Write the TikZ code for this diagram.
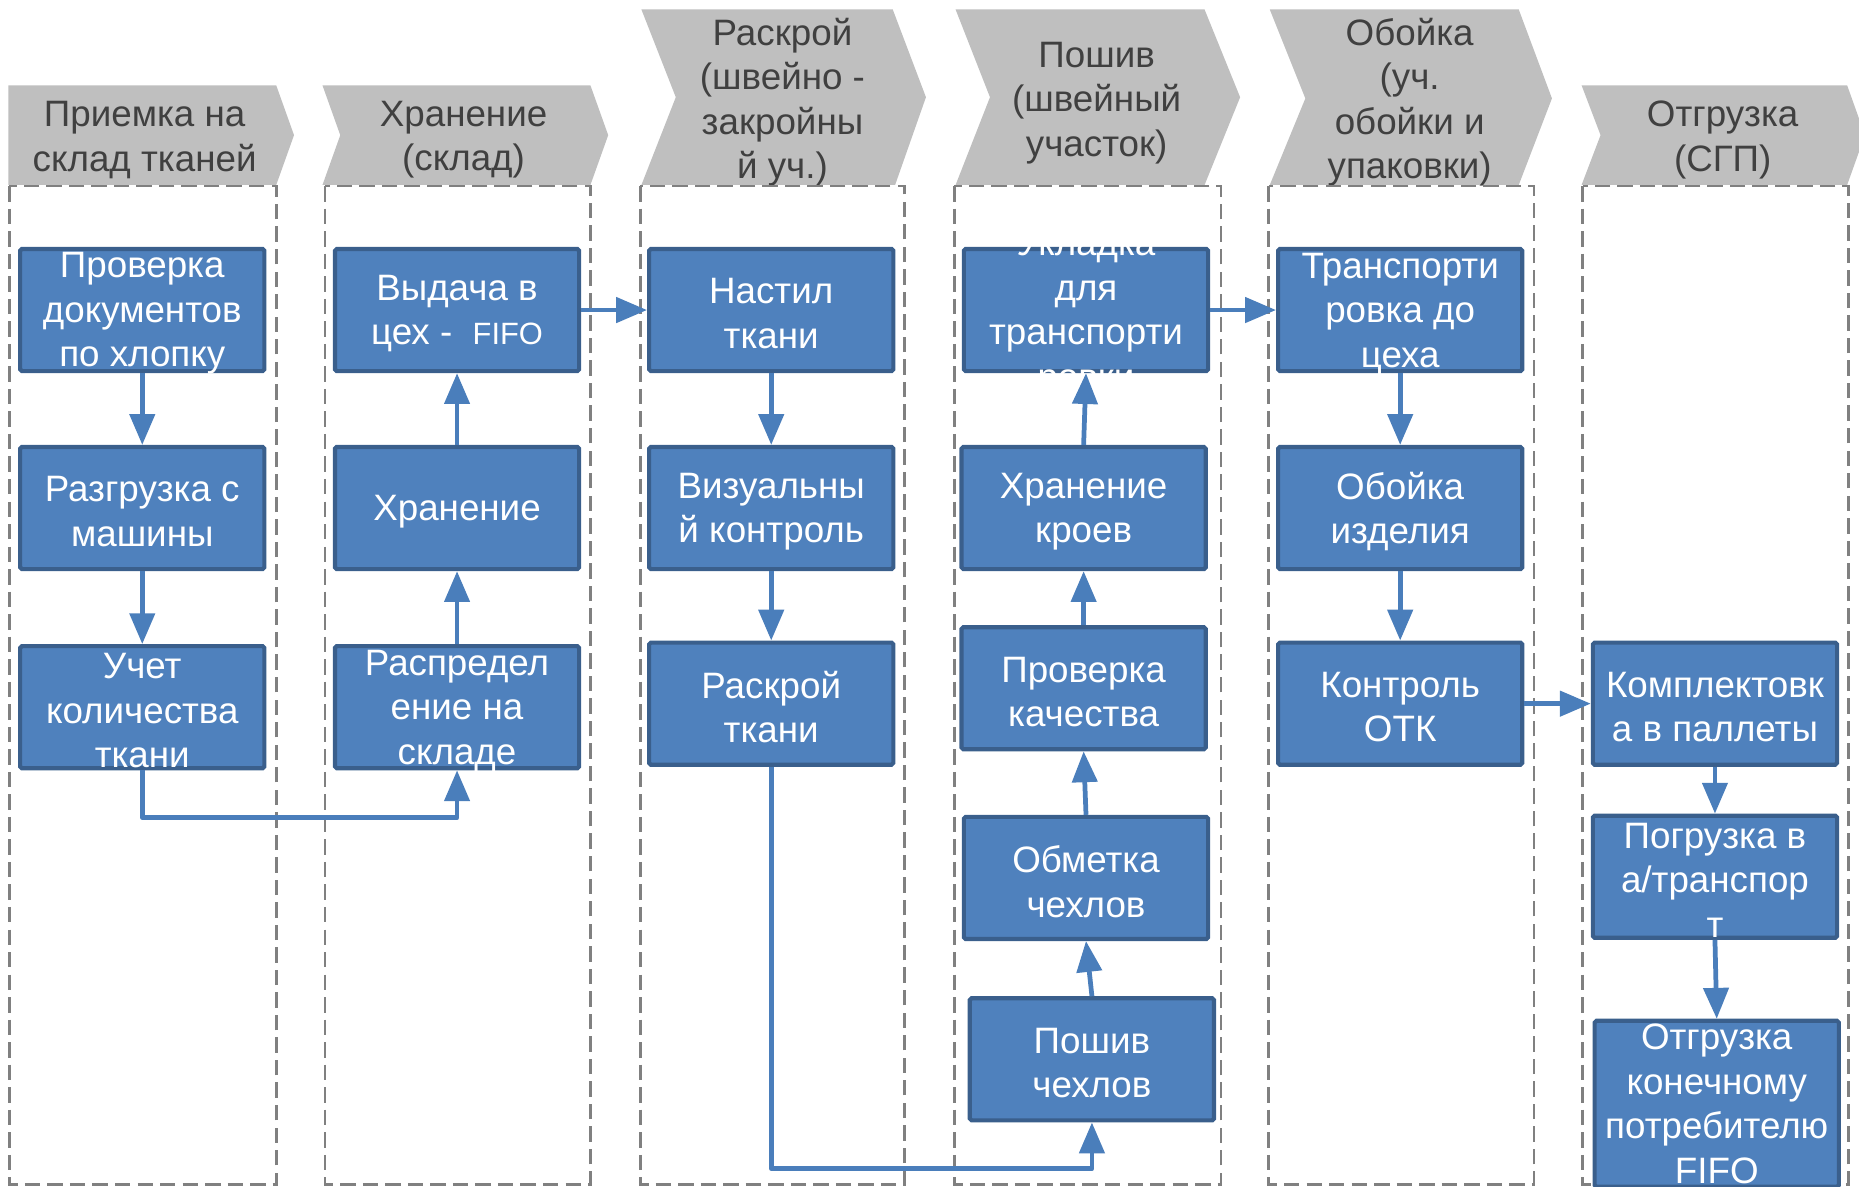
\documentclass[tikz,border=0pt]{standalone}
\usepackage{fontspec}
\setmainfont{Liberation Sans}
\usetikzlibrary{arrows.meta}
\definecolor{boxblue}{HTML}{4F81BD}
\definecolor{boxline}{HTML}{3A5F8C}
\definecolor{flowblue}{HTML}{4A7EBB}
\definecolor{headgray}{HTML}{BFBFBF}
\definecolor{headtext}{HTML}{404040}
\definecolor{lanegray}{HTML}{808080}
\newcommand{\bigfont}{\fontsize{31}{37.5}\selectfont}
\tikzset{
        lane/.style={draw=lanegray, line width=2.2pt, dash pattern=on 13pt off 6pt},
        head/.style={fill=headgray},
        headtxt/.style={text=headtext, align=center, font=\bigfont, inner sep=0pt, yshift=-3pt},
        proc/.style={draw=boxline, fill=boxblue, line width=3.5pt, rounded corners=1.5pt,
                minimum width=206pt, minimum height=103pt, inner sep=0pt},
        txt/.style={text=white, align=center, font=\bigfont, inner sep=0pt, yshift=-3pt},
        flow/.style={draw=flowblue, line width=4pt, line join=round,
                -{Triangle[length=26pt,width=21pt]}}
}
\begin{document}
\begin{tikzpicture}[x=1pt,y=-1pt]
        \useasboundingbox (0,0) rectangle (1568,1001);
        \clip (0,0) rectangle (1568,1001);
        % chevrons
        \fill[head] (7,72) -- (233,72) -- (248,114) -- (233,156) -- (7,156) -- cycle;
        \fill[head] (272,72) -- (498,72) -- (513,114) -- (498,156) -- (272,156) -- (287,114) -- cycle;
        \fill[head] (541,8) -- (753,8) -- (781,82) -- (755,156) -- (541,156) -- (570,82) -- cycle;
        \fill[head] (806,8) -- (1016,8) -- (1046,82) -- (1016,156) -- (806,156) -- (835,82) -- cycle;
        \fill[head] (1071,8) -- (1281,8) -- (1309,83) -- (1281,156) -- (1071,156) -- (1101,83) -- cycle;
        \fill[head] (1334,72) -- (1558,72) -- (1573,114) -- (1558,156) -- (1334,156) -- (1350,114) -- cycle;
        \node[headtxt] (h1) at (122,115) {Приемка на\\склад тканей};
        \node[headtxt] (h2) at (391,115) {Хранение\\(склад)};
        \node[headtxt] (h3) at (660,83) {Раскрой\\(швейно -\\закройны\\й уч.)};
        \node[headtxt] (h4) at (925,84) {Пошив\\(швейный\\участок)};
        \node[headtxt] (h5) at (1189,83) {Обойка\\(уч.\\обойки и\\упаковки)};
        \node[headtxt] (h6) at (1453,115) {Отгрузка\\(СГП)};
        % lanes
        \draw[lane] (8,157) rectangle (233,999);
        \draw[lane] (274,157) rectangle (498,999);
        \draw[lane] (540,157) rectangle (763,999);
        \draw[lane] (805,157) rectangle (1030,999);
        \draw[lane] (1070,157) rectangle (1294,999);
        \draw[lane] (1335,157) rectangle (1559,999);
        % steps
        \node[proc, label={[txt]center:Проверка\\документов\\по хлопку}] (a1) at (120,261.5) {};
        \node[proc, label={[txt]center:Разгрузка с\\машины}] (a2) at (120,428.5) {};
        \node[proc, label={[txt]center:Учет\\количества\\ткани}] (a3) at (120,596.5) {};
        \node[proc, label={[txt]center:Выдача в\\цех -\ \ {\fontsize{26}{37.5}\selectfont FIFO}}] (b1) at (385.5,261.5) {};
        \node[proc, label={[txt]center:Хранение}] (b2) at (385.5,428.5) {};
        \node[proc, label={[txt]center:Распредел\\ение на\\складе}] (b3) at (385.5,596.5) {};
        \node[proc, label={[txt]center:Настил\\ткани}] (c1) at (650.5,261.5) {};
        \node[proc, label={[txt]center:Визуальны\\й контроль}] (c2) at (650.5,428.5) {};
        \node[proc, label={[txt]center:Раскрой\\ткани}] (c3) at (650.5,593.5) {};
        \node[proc, label={[txt]center:Укладка\\для\\транспорти\\ровки}] (d1) at (916,261.5) {};
        \node[proc, label={[txt]center:Хранение\\кроев}] (d2) at (914,428.5) {};
        \node[proc, label={[txt]center:Проверка\\качества}] (d3) at (914,580.5) {};
        \node[proc, label={[txt]center:Обметка\\чехлов}] (d4) at (916,740.5) {};
        \node[proc, label={[txt]center:Пошив\\чехлов}] (d5) at (921,893.5) {};
        \node[proc, label={[txt]center:Транспорти\\ровка до\\цеха}] (e1) at (1181,261.5) {};
        \node[proc, label={[txt]center:Обойка\\изделия}] (e2) at (1181,428.5) {};
        \node[proc, label={[txt]center:Контроль\\ОТК}] (e3) at (1181,593.5) {};
        \node[proc, label={[txt]center:Комплектовк\\а в паллеты}] (f1) at (1446.5,593.5) {};
        \node[proc, label={[txt]center:Погрузка в\\а/транспор\\т}] (f2) at (1446.5,739.5) {};
        \node[proc, minimum height=140pt, label={[txt, yshift=3pt]center:Отгрузка\\конечному\\потребителю\\FIFO}] (f3) at (1448,931) {};
        % flow
        \draw[flow] (a1) -- (a2);
        \draw[flow] (a2) -- (a3);
        \draw[flow] (a3.south) -- ++(0,40) -| (b3.south);
        \draw[flow] (b3) -- (b2);
        \draw[flow] (b2) -- (b1);
        \draw[flow] (b1) -- (c1);
        \draw[flow] (c1) -- (c2);
        \draw[flow] (c2) -- (c3);
        \draw[flow] (c3.south) -- ++(0,339) -| (d5.south);
        \draw[flow] (d5.north) -- (d4.south);
        \draw[flow] (d4.north) -- (d3.south);
        \draw[flow] (d3) -- (d2);
        \draw[flow] (d2.north) -- (d1.south);
        \draw[flow] (d1) -- (e1);
        \draw[flow] (e1) -- (e2);
        \draw[flow] (e2) -- (e3);
        \draw[flow] (e3) -- (f1);
        \draw[flow] (f1) -- (f2);
        \draw[flow] (f2.south) -- (f3.north);
\end{tikzpicture}
\end{document}
